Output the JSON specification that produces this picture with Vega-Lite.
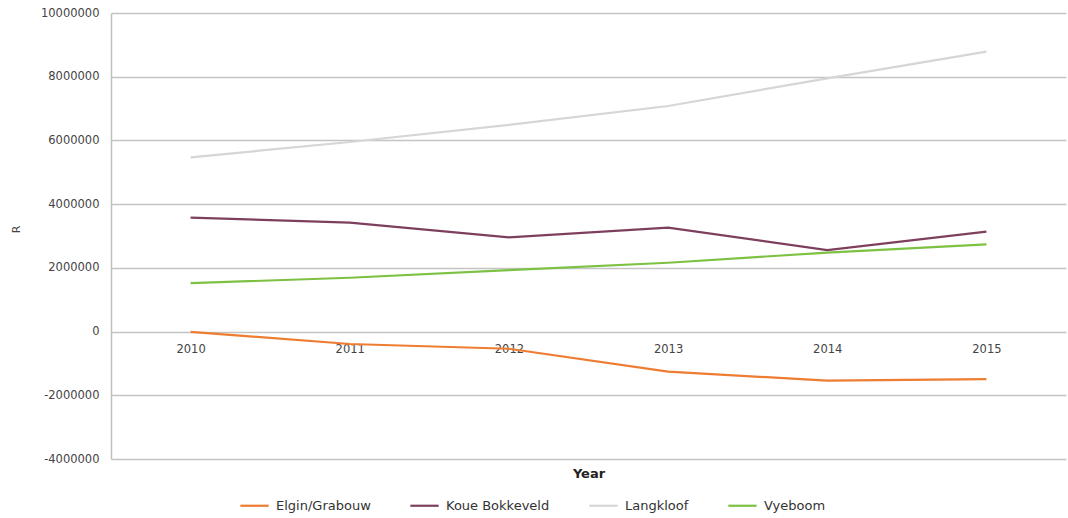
{
  "$schema": "https://vega.github.io/schema/vega-lite/v6.json",
  "width": 955,
  "height": 446,
  "autosize": {"type": "none"},
  "padding": {"left": 111, "top": 13, "right": 2, "bottom": 59},
  "background": "white",
  "config": {
    "view": {"stroke": null},
    "font": "DejaVu Sans"
  },
  "data": {
    "values": [
      {"year": "2010", "region": "Elgin/Grabouw", "value": -10000},
      {"year": "2011", "region": "Elgin/Grabouw", "value": -390000},
      {"year": "2012", "region": "Elgin/Grabouw", "value": -540000},
      {"year": "2013", "region": "Elgin/Grabouw", "value": -1260000},
      {"year": "2014", "region": "Elgin/Grabouw", "value": -1540000},
      {"year": "2015", "region": "Elgin/Grabouw", "value": -1490000},
      {"year": "2010", "region": "Koue Bokkeveld", "value": 3575000},
      {"year": "2011", "region": "Koue Bokkeveld", "value": 3420000},
      {"year": "2012", "region": "Koue Bokkeveld", "value": 2960000},
      {"year": "2013", "region": "Koue Bokkeveld", "value": 3260000},
      {"year": "2014", "region": "Koue Bokkeveld", "value": 2560000},
      {"year": "2015", "region": "Koue Bokkeveld", "value": 3140000},
      {"year": "2010", "region": "Langkloof", "value": 5470000},
      {"year": "2011", "region": "Langkloof", "value": 5950000},
      {"year": "2012", "region": "Langkloof", "value": 6490000},
      {"year": "2013", "region": "Langkloof", "value": 7080000},
      {"year": "2014", "region": "Langkloof", "value": 7950000},
      {"year": "2015", "region": "Langkloof", "value": 8790000},
      {"year": "2010", "region": "Vyeboom", "value": 1520000},
      {"year": "2011", "region": "Vyeboom", "value": 1690000},
      {"year": "2012", "region": "Vyeboom", "value": 1930000},
      {"year": "2013", "region": "Vyeboom", "value": 2160000},
      {"year": "2014", "region": "Vyeboom", "value": 2480000},
      {"year": "2015", "region": "Vyeboom", "value": 2740000}
    ]
  },
  "mark": {"type": "line", "strokeWidth": 2.2},
  "encoding": {
    "x": {
      "field": "year",
      "type": "ordinal",
      "scale": {"type": "point", "padding": 0.5},
      "axis": {
        "title": "Year",
        "titleFontWeight": "bold",
        "titleFontSize": 13,
        "titleColor": "#222222",
        "titleY": 142,
        "titleBaseline": "middle",
        "labelAngle": 0,
        "labelFontSize": 11.5,
        "labelColor": "#444444",
        "labelPadding": 12,
        "ticks": false,
        "domain": false,
        "grid": false,
        "offset": -127.4
      }
    },
    "y": {
      "field": "value",
      "type": "quantitative",
      "scale": {"domain": [-4000000, 10000000], "nice": false, "zero": false},
      "axis": {
        "title": "R",
        "titleFontWeight": "normal",
        "titleFontSize": 11,
        "titleColor": "#444444",
        "titleX": -95,
        "titleY": 216,
        "titleAngle": -90,
        "titleAlign": "center",
        "titleBaseline": "middle",
        "values": [-4000000, -2000000, 0, 2000000, 4000000, 6000000, 8000000, 10000000],
        "labelExpr": "'' + datum.value",
        "labelFontSize": 11.5,
        "labelColor": "#444444",
        "labelPadding": 12,
        "ticks": false,
        "domain": true,
        "domainColor": "#BFBFBF",
        "domainWidth": 1.5,
        "grid": true,
        "gridColor": "#C4C4C4",
        "gridWidth": 1.5
      }
    },
    "color": {
      "field": "region",
      "type": "nominal",
      "scale": {
        "domain": ["Elgin/Grabouw", "Koue Bokkeveld", "Langkloof", "Vyeboom"],
        "range": ["#ED7D31", "#7E3F5E", "#D6D6D6", "#7DC142"]
      },
      "legend": {
        "title": null,
        "orient": "none",
        "direction": "horizontal",
        "legendX": 128,
        "legendY": 477,
        "symbolType": "stroke",
        "symbolSize": 800,
        "symbolStrokeWidth": 2.2,
        "labelFontSize": 13,
        "labelColor": "#333333",
        "columnPadding": 34,
        "labelOffset": 6
      }
    }
  }
}
